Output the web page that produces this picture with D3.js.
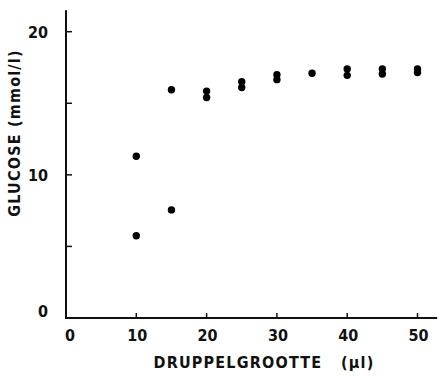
<!DOCTYPE html>
<html>
<head>
<meta charset="utf-8">
<script src="https://cdn.jsdelivr.net/npm/d3@7"></script>
<style>
  body { margin: 0; background: #fff; }
  svg text { font-family: "Liberation Sans Narrow", "DejaVu Sans Condensed", sans-serif; font-weight: bold; fill: #111; }
</style>
</head>
<body>
<svg width="446" height="380"></svg>
<script>
// droplet size (ul) vs glucose (mmol/l)
var dropSize = [10, 10, 15, 15, 20, 20, 25, 25, 30, 30, 35, 40, 40, 45, 45, 50, 50];
var glucose  = [11.3, 5.75, 15.95, 7.55, 15.85, 15.4, 16.5, 16.1, 17.0, 16.65, 17.1, 17.4, 16.95, 17.4, 17.05, 17.4, 17.15];
var xTicks = [0, 10, 20, 30, 40, 50];
var yTicks = [0, 5, 10, 15, 20];
var yLabelled = [0, 10, 20];

var svg = d3.select("svg");

var scaleX = d3.scaleLinear().domain([0, 50]).range([66, 417.5]),
    scaleY = d3.scaleLinear().domain([0, 20]).range([318, 31.7]);

var points = dropSize.map(function (d, i) { return {x: d, y: glucose[i]}; });

// x axis
var axisX = svg.append("g").attr("transform", "translate(0," + scaleY(0) + ")");
axisX.append("line")
    .attr("x1", scaleX(0) - 1).attr("x2", scaleX(52.8))
    .attr("stroke", "#111").attr("stroke-width", 2);
axisX.selectAll(".tick").data(xTicks.slice(1)).enter().append("line")
    .attr("x1", function (d) { return scaleX(d); })
    .attr("x2", function (d) { return scaleX(d); })
    .attr("y1", 0).attr("y2", -5)
    .attr("stroke", "#111").attr("stroke-width", 1.5);
axisX.selectAll("text").data(xTicks).enter().append("text")
    .attr("x", function (d) { return scaleX(d) + (d === 0 ? 4 : 1); })
    .attr("y", 23)
    .attr("text-anchor", "middle")
    .style("font-size", "16px")
    .text(function (d) { return d; });

// y axis
var axisY = svg.append("g").attr("transform", "translate(" + scaleX(0) + ",0)");
axisY.append("line")
    .attr("y1", scaleY(0)).attr("y2", scaleY(21.5))
    .attr("stroke", "#111").attr("stroke-width", 2);
axisY.selectAll(".tick").data(yTicks.slice(1)).enter().append("line")
    .attr("y1", function (d) { return scaleY(d); })
    .attr("y2", function (d) { return scaleY(d); })
    .attr("x1", 0).attr("x2", 6)
    .attr("stroke", "#111").attr("stroke-width", 1.5);
axisY.selectAll("text").data(yLabelled).enter().append("text")
    .attr("x", -18)
    .attr("y", function (d) { return scaleY(d) + (d === 0 ? -1 : 6); })
    .attr("text-anchor", "end")
    .style("font-size", "16px")
    .text(function (d) { return d; });

// axis titles
svg.append("text")
    .attr("x", 264).attr("y", 368)
    .attr("text-anchor", "middle")
    .style("font-size", "16px")
    .style("letter-spacing", "1.2px")
    .attr("xml:space", "preserve")
    .text("DRUPPELGROOTTE   (\u00b5l)");

svg.append("text")
    .attr("transform", "translate(20,133) rotate(-90)")
    .attr("text-anchor", "middle")
    .style("font-size", "16px")
    .style("letter-spacing", "1.2px")
    .text("GLUCOSE (mmol/l)");

// data points
svg.append("g").selectAll("circle").data(points).enter().append("circle")
    .attr("cx", function (d) { return scaleX(d.x); })
    .attr("cy", function (d) { return scaleY(d.y); })
    .attr("r", 3.7)
    .attr("fill", "#000");
</script>
</body>
</html>
